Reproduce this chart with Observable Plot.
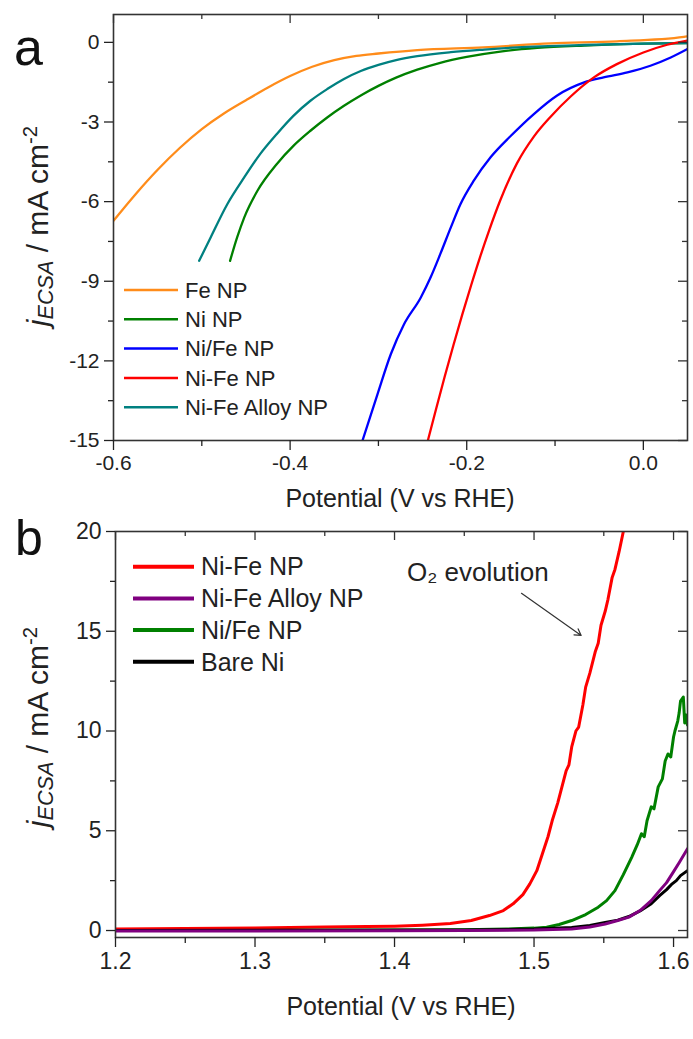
<!DOCTYPE html>
<html><head><meta charset="utf-8">
<script src="https://cdn.jsdelivr.net/npm/d3@7"></script>
<script src="https://cdn.jsdelivr.net/npm/@observablehq/plot@0.6"></script>
<style>
body{margin:0;background:#fff;font-family:"Liberation Sans",Arial,sans-serif;}
#wrap{width:693px;position:relative;}
#wrap svg{display:block;}
#wrap svg.panelb{margin-top:-15px;position:relative;}
</style></head><body><div id="wrap"></div>
<script>
// ---------- Panel a data (HER, potential vs j) ----------
const aXMajor=[-0.6,-0.4,-0.2,0.0];
const aXMinor=[-0.5,-0.3,-0.1];
const aYMajor=[-15,-12,-9,-6,-3,0];
const aYMinor=[-13.5,-10.5,-7.5,-4.5,-1.5];
const aNames=["Fe NP","Ni NP","Ni/Fe NP","Ni-Fe NP","Ni-Fe Alloy NP"];
const aColors=["#ff8c1a","#008000","#0000ff","#ff0000","#008080"];

const aFeNP_x=[-0.600,-0.575,-0.550,-0.525,-0.500,-0.475,-0.450,-0.425,-0.400,-0.375,-0.350,-0.325,-0.300,-0.256,-0.181,-0.105,-0.030,0.046,0.050];
const aFeNP_y=[-6.72,-5.72,-4.80,-3.98,-3.27,-2.68,-2.18,-1.70,-1.27,-0.92,-0.67,-0.51,-0.42,-0.29,-0.19,-0.04,0.04,0.21,0.23];

const aNiNP_x=[-0.468,-0.460,-0.452,-0.437,-0.415,-0.396,-0.377,-0.358,-0.339,-0.320,-0.300,-0.280,-0.256,-0.230,-0.200,-0.160,-0.120,-0.067,0.000,0.050];
const aNiNP_y=[-8.23,-7.35,-6.60,-5.59,-4.58,-3.89,-3.33,-2.83,-2.39,-2.00,-1.64,-1.33,-1.03,-0.77,-0.55,-0.34,-0.21,-0.12,-0.05,-0.03];

const aNiFeSep_x=[-0.318,-0.301,-0.286,-0.271,-0.252,-0.241,-0.230,-0.218,-0.207,-0.192,-0.173,-0.150,-0.124,-0.098,-0.067,-0.045,-0.018,0.008,0.031,0.050];
const aNiFeSep_y=[-15.0,-13.25,-11.75,-10.62,-9.61,-8.86,-7.98,-6.97,-6.09,-5.21,-4.33,-3.52,-2.70,-2.01,-1.51,-1.32,-1.13,-0.88,-0.57,-0.25];

const aNiFe_x=[-0.244,-0.235,-0.225,-0.215,-0.205,-0.195,-0.185,-0.175,-0.162,-0.143,-0.124,-0.105,-0.082,-0.056,-0.030,0.000,0.027,0.050];
const aNiFe_y=[-15.0,-13.85,-12.6,-11.4,-10.25,-9.15,-8.1,-7.12,-5.95,-4.55,-3.55,-2.80,-2.03,-1.32,-0.82,-0.38,-0.09,0.07];

const aAlloy_x=[-0.503,-0.490,-0.471,-0.452,-0.434,-0.415,-0.396,-0.377,-0.358,-0.339,-0.320,-0.300,-0.280,-0.256,-0.218,-0.180,-0.143,-0.067,0.000,0.050];
const aAlloy_y=[-8.23,-7.35,-6.09,-5.09,-4.21,-3.45,-2.76,-2.20,-1.76,-1.38,-1.08,-0.85,-0.67,-0.52,-0.37,-0.27,-0.19,-0.10,-0.05,-0.03];

// ---------- Panel b data (OER) ----------
const bXMajor=[1.2,1.3,1.4,1.5,1.6];
const bXMinor=[1.25,1.35,1.45,1.55];
const bYMajor=[0,5,10,15,20];
const bYMinor=[2.5,7.5,12.5,17.5];
const bNames=["Ni-Fe NP","Ni-Fe Alloy NP","Ni/Fe NP","Bare Ni"];
const bColors=["#ff0000","#800080","#008000","#000000"];

const bNiFe_x=[1.200,1.250,1.300,1.350,1.380,1.400,1.420,1.440,1.455,1.468,1.478,1.485,1.492,1.497,1.502,1.506,1.510,1.513,1.517,1.520,1.523,1.525,1.527,1.530,1.532,1.535,1.537,1.540,1.544,1.546,1.548,1.551,1.553,1.556,1.558,1.561,1.564,1.567];
const bNiFe_y=[0.08,0.10,0.13,0.18,0.20,0.22,0.27,0.35,0.50,0.75,1.00,1.34,1.80,2.34,3.00,3.85,4.70,5.50,6.40,7.20,8.00,8.30,9.20,10.00,10.20,11.30,12.20,12.90,14.00,14.40,15.30,16.00,16.60,17.70,18.10,19.00,20.00,21.00];

const bNiFeSep_x=[1.200,1.300,1.400,1.450,1.480,1.500,1.509,1.518,1.527,1.537,1.546,1.552,1.558,1.564,1.570,1.574,1.577,1.579,1.581,1.584,1.586,1.589,1.592,1.594,1.596,1.598,1.600,1.601,1.603,1.604,1.605,1.607,1.608,1.609,1.610];
const bNiFeSep_y=[0.00,0.00,0.02,0.04,0.07,0.12,0.17,0.30,0.50,0.80,1.17,1.50,2.00,2.80,3.67,4.30,4.85,4.70,5.50,6.20,6.10,7.20,7.60,8.50,8.85,8.70,9.70,10.00,10.50,10.90,11.50,11.70,10.40,10.80,10.30];

const bAlloy_x=[1.200,1.300,1.400,1.450,1.500,1.527,1.540,1.551,1.560,1.568,1.576,1.584,1.590,1.595,1.599,1.604,1.610];
const bAlloy_y=[-0.02,-0.02,-0.01,0.00,0.02,0.08,0.18,0.33,0.50,0.67,1.00,1.50,2.00,2.40,2.84,3.40,4.10];

const bBare_x=[1.200,1.450,1.500,1.527,1.540,1.551,1.560,1.568,1.576,1.584,1.590,1.595,1.599,1.602,1.605,1.610];
const bBare_y=[0.00,0.03,0.07,0.15,0.25,0.40,0.52,0.70,0.98,1.34,1.75,2.05,2.34,2.50,2.75,3.00];

const bNote={text:"O\u2082 evolution", x:1.409, y:17.95};
const bArrow={x1:1.491, y1:16.9, x2:1.5338, y2:14.79};

// ---------- helpers ----------
function rows(name, xs, ys){ return xs.map((x,i)=>({name, x, y:ys[i]})); }
const FONT="Liberation Sans, Arial, Helvetica, sans-serif";
const INK="#333";

function axisMarks(o){
  return [
    Plot.axisX({ticks:o.xMaj, tickSize:10, tickPadding:5, tickFormat:d=>d.toFixed(1), fontSize:o.fs, label:null, strokeWidth:1.3}),
    Plot.axisX({ticks:o.xMin, tickSize:6, tickFormat:()=>"", label:null, strokeWidth:1.3}),
    Plot.axisY({ticks:o.yMaj, tickSize:9, tickPadding:5, tickFormat:d=>String(d), fontSize:o.fs, label:null, strokeWidth:1.3}),
    Plot.axisY({ticks:o.yMin, tickSize:5, tickFormat:()=>"", label:null, strokeWidth:1.3}),
    Plot.tickX(o.xMaj, {x:d=>d, insetBottom:o.ph-9, stroke:INK, strokeWidth:1.3}),
    Plot.tickX(o.xMin, {x:d=>d, insetBottom:o.ph-5, stroke:INK, strokeWidth:1.3}),
    Plot.tickY(o.yMaj, {y:d=>d, insetLeft:o.pw-9, stroke:INK, strokeWidth:1.3}),
    Plot.tickY(o.yMin, {y:d=>d, insetLeft:o.pw-5, stroke:INK, strokeWidth:1.3})
  ];
}

function addTitles(svg, o){
  const g=d3.select(svg);
  g.append("text").attr("x",o.letterX).attr("y",o.letterY).attr("font-size",o.letterFs)
    .attr("text-anchor","start").attr("font-family",FONT).attr("fill","#111").text(o.letter);
  g.append("text").attr("x",o.xtX).attr("y",o.xtY).attr("text-anchor","middle")
    .attr("font-size",o.xtFs).attr("font-family",FONT).attr("fill","#222").text("Potential (V vs RHE)");
  const t=g.append("text").attr("transform",`translate(${o.ytX},${o.ytY}) rotate(-90)`)
    .attr("text-anchor","middle").attr("font-size",o.ytFs).attr("font-family",FONT).attr("fill","#222");
  t.append("tspan").attr("font-style","italic").text("j");
  t.append("tspan").attr("font-style","italic").attr("font-size",o.ytFs*0.72).attr("dy",5).text("ECSA");
  t.append("tspan").attr("dy",-5).text(" / mA cm");
  t.append("tspan").attr("font-size",o.ytFs*0.68).attr("dy",-11).text("-2");
  o.names.forEach((n,i)=>{
    const y=o.legY+i*o.legDy;
    g.append("line").attr("x1",o.legX1).attr("x2",o.legX2).attr("y1",y).attr("y2",y)
      .attr("stroke",o.colors[i]).attr("stroke-width",o.legW);
    g.append("text").attr("x",o.legTX).attr("y",y).attr("dy","0.35em").attr("font-size",o.legFs)
      .attr("text-anchor","start").attr("font-family",FONT).attr("fill","#222").text(n);
  });
}

const wrap=document.getElementById("wrap");

// ---------- Panel a ----------
const A={w:693,h:515,mt:14,mr:6,mb:75,ml:113};
const aData=[
  ...rows("Fe NP",aFeNP_x,aFeNP_y),
  ...rows("Ni NP",aNiNP_x,aNiNP_y),
  ...rows("Ni-Fe Alloy NP",aAlloy_x,aAlloy_y),
  ...rows("Ni/Fe NP",aNiFeSep_x,aNiFeSep_y),
  ...rows("Ni-Fe NP",aNiFe_x,aNiFe_y)
];
const chartA=Plot.plot({
  width:A.w,height:A.h,marginTop:A.mt,marginRight:A.mr,marginBottom:A.mb,marginLeft:A.ml,
  style:{fontFamily:FONT,fontSize:"21px",color:"#222",background:"#fff"},
  x:{domain:[-0.6,0.05]},
  y:{domain:[-15,1.05]},
  color:{domain:aNames,range:aColors},
  marks:[
    Plot.line(aData,{x:"x",y:"y",z:"name",stroke:"name",strokeWidth:2.3,curve:"monotone-x",clip:true}),
    Plot.frame({stroke:INK,strokeWidth:1.6}),
    ...axisMarks({xMaj:aXMajor,xMin:aXMinor,yMaj:aYMajor,yMin:aYMinor,fs:21,pw:A.w-A.ml-A.mr,ph:A.h-A.mt-A.mb})
  ]
});
wrap.appendChild(chartA);
addTitles(chartA,{letter:"a",letterX:14,letterY:65,letterFs:52,
  xtX:400,xtY:507,xtFs:25,ytX:48,ytY:226,ytFs:30,
  names:aNames,colors:aColors,legY:290,legDy:29.3,legX1:124,legX2:178,legTX:185,legFs:22,legW:2.5});

// ---------- Panel b (its svg overlaps panel a by 15px, transparent background) ----------
const B={w:693,h:539,mt:31,mr:6,mb:102,ml:115};
const bData=[
  ...rows("Ni-Fe NP",bNiFe_x,bNiFe_y),
  ...rows("Ni/Fe NP",bNiFeSep_x,bNiFeSep_y),
  ...rows("Bare Ni",bBare_x,bBare_y),
  ...rows("Ni-Fe Alloy NP",bAlloy_x,bAlloy_y)
];
const chartB=Plot.plot({
  width:B.w,height:B.h,marginTop:B.mt,marginRight:B.mr,marginBottom:B.mb,marginLeft:B.ml,
  style:{fontFamily:FONT,fontSize:"23px",color:"#222",background:"transparent"},
  x:{domain:[1.2,1.61]},
  y:{domain:[-0.35,20]},
  color:{domain:bNames,range:bColors},
  marks:[
    Plot.line(bData,{x:"x",y:"y",z:"name",stroke:"name",strokeWidth:3,clip:true}),
    Plot.text([bNote],{x:"x",y:"y",text:"text",textAnchor:"start",fontSize:26,fill:"#222"}),
    Plot.arrow([bArrow],{x1:"x1",y1:"y1",x2:"x2",y2:"y2",stroke:"#333",strokeWidth:1.2,headLength:9}),
    Plot.frame({stroke:INK,strokeWidth:1.6}),
    ...axisMarks({xMaj:bXMajor,xMin:bXMinor,yMaj:bYMajor,yMin:bYMinor,fs:23,pw:B.w-B.ml-B.mr,ph:B.h-B.mt-B.mb})
  ]
});
chartB.classList.add("panelb");
wrap.appendChild(chartB);
addTitles(chartB,{letter:"b",letterX:15,letterY:55,letterFs:50,
  xtX:401,xtY:515,xtFs:25,ytX:48,ytY:227,ytFs:30,
  names:bNames,colors:bColors,legY:66.7,legDy:31.7,legX1:133,legX2:194,legTX:201,legFs:25,legW:4});
</script></body></html>
